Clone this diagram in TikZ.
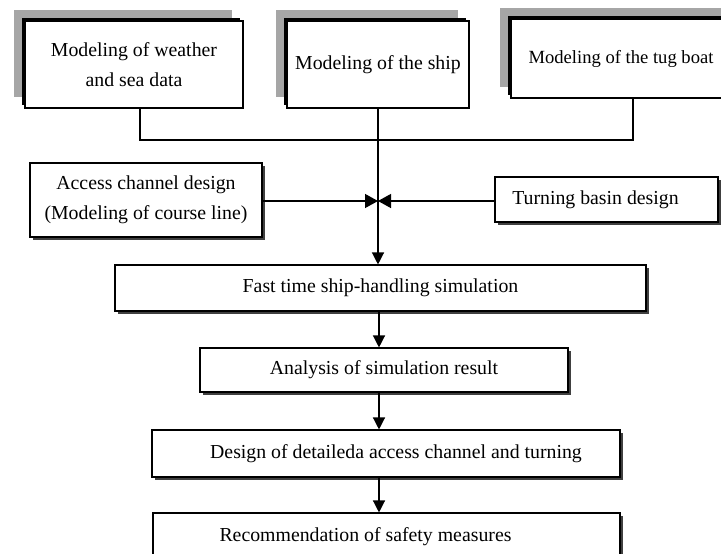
\documentclass[tikz,border=0pt]{standalone}
\usepackage{fontspec}
\setmainfont{Liberation Serif}
\usetikzlibrary{arrows.meta,shadows}
\begin{document}
\begin{tikzpicture}[x=1pt,y=-1pt,
  every node/.style={font=\fontsize{19.8}{30}\selectfont},
  topbox/.style={draw=black, line width=1.2pt, fill=white, align=center, inner sep=0pt,
    general shadow={shadow xshift=-11pt, shadow yshift=11pt, fill=black!35},
    general shadow={shadow xshift=-3pt, shadow yshift=3pt, fill=black}},
  lowbox/.style={draw=black, line width=1.1pt, fill=white, align=center, inner sep=0pt,
    general shadow={shadow xshift=3pt, shadow yshift=-3pt, fill=black!75}},
  conn/.style={line width=1.3pt},
  arr/.style={conn, -{Triangle[length=12pt,width=12pt]}},
  tie/.style={conn, -{Triangle[length=13pt,width=14pt]}}]
\fill[white] (0,0) rectangle (721,554);
\useasboundingbox (0,0) rectangle (721,554);

\node[topbox, minimum width=218pt, minimum height=87pt] (b1) at (134,64.5) {Modeling of weather\\and sea data};
\node[topbox, minimum width=182pt, minimum height=87pt] (b2) at (378,64.5) {Modeling of the ship};
\node[topbox, minimum width=242pt, minimum height=79pt, font=\fontsize{18.6}{28}\selectfont] (b3) at (632,58.5) {\hspace*{-22pt}Modeling of the tug boat};

\node[lowbox, minimum width=232pt, minimum height=74pt] (acc) at (146,200) {Access channel design\\(Modeling of course line)};
\node[lowbox, minimum width=223pt, minimum height=45pt] (turn) at (606.5,199.5) {\hspace*{-22pt}Turning basin design};
\node[lowbox, minimum width=531pt, minimum height=46pt] (fast) at (380.5,288) {Fast time ship-handling simulation};
\node[lowbox, minimum width=368pt, minimum height=44pt] (ana) at (384,370) {Analysis of simulation result};
\node[lowbox, minimum width=468pt, minimum height=47pt] (des) at (386,453.5) {\hspace*{20pt}Design of detaileda access channel and turning};
\node[lowbox, minimum width=467pt, minimum height=48pt] (rec) at (386.5,537) {\hspace*{-42pt}Recommendation of safety measures};

\coordinate (busL) at (140,140);
\coordinate (busR) at (633,140);
\coordinate (j) at (378,201);
\coordinate (m) at (379,0);

\draw[conn] (b1.south -| busL) -- (busL) -- (busR) -- (b3.south -| busR);
\draw[arr] (b2.south) -- (b2.south |- fast.north);
\draw[tie] (acc.east |- j) -- (j);
\draw[tie] (turn.west |- j) -- (j);
\draw[arr] (fast.south -| m) -- (ana.north -| m);
\draw[arr] (ana.south -| m) -- (des.north -| m);
\draw[arr] (des.south -| m) -- (rec.north -| m);
\end{tikzpicture}
\end{document}
